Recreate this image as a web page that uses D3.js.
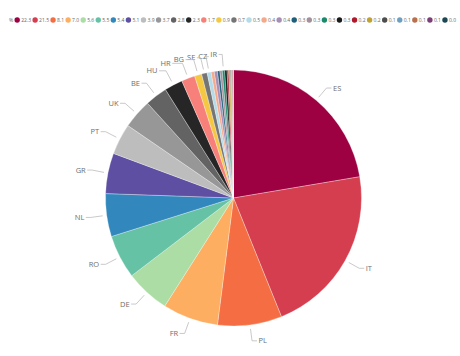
<!DOCTYPE html>
<html><head><meta charset="utf-8">
<script src="https://cdn.jsdelivr.net/npm/d3@7/dist/d3.min.js"></script>
<style>body{margin:0;background:#fff}svg{display:block}</style>
</head><body><svg id="c" width="460" height="356"></svg>
<script>
const countries = ["ES","IT","PL","FR","DE","RO","NL","GR","PT","UK","BE","HU","HR","BG","SE","CZ","AT","DK","FI","SK","IR","LT","SI","LV","EE","CY","LU","MT","NO"];
const values = [22.3,21.5,8.1,7.0,5.6,5.5,5.4,5.1,3.9,3.7,2.8,2.3,1.7,0.9,0.7,0.5,0.4,0.4,0.3,0.3,0.3,0.3,0.2,0.2,0.1,0.1,0.1,0.1,0.0];
const colors = ["#9e0142","#d53e4f","#f46d43","#fdae61","#abdda4","#66c2a5","#3288bd","#5e4fa2","#bdbdbd","#979797","#636363","#262626","#f8807a","#f5c843","#757575","#b3dbe8","#f4a98a","#a88db5","#1f5f7a","#a48f9c","#1b8a6b","#1a1a1a","#b2182b","#bfa233","#4d4d4d","#6f9fc0","#b8704d","#7b3f78","#1c4752"];
const shownLabels = ["ES","IT","PL","FR","DE","RO","NL","GR","PT","UK","BE","HU","HR","BG","SE","CZ","IR"];
const legendTitle = "%";

const data = countries.map((c,i)=>({name:c,value:values[i],color:colors[i]}));
const svg = d3.select("#c");
const cx = 233.5, cy = 198, R = 128;

// Legend (flow layout fitted between x0 and x1)
const lg = svg.append("g").attr("font-family","Open Sans, sans-serif").attr("font-size",5).attr("fill","#666");
const x0 = 9, x1 = 456, ly = 20, cr = 2.7, cg = 1.3;
const t0 = lg.append("text").attr("x",x0).attr("y",ly+1.8).text(legendTitle);
const items = data.map(d=>{
  const c = lg.append("circle").attr("cy",ly).attr("r",cr).attr("fill",d.color);
  const t = lg.append("text").attr("y",ly+1.8).text(d3.format(".1f")(d.value));
  return {c,t,w:t.node().getComputedTextLength()};
});
const titleW = t0.node().getComputedTextLength();
const natural = titleW + d3.sum(items,it=>2*cr+cg+it.w);
const gap = Math.max(0.5,(x1 - x0 - natural)/items.length);
let x = x0 + titleW + gap;
items.forEach(it=>{
  it.c.attr("cx",x+cr);
  it.t.attr("x",x+2*cr+cg);
  x += 2*cr + cg + it.w + gap;
});

// Pie
const pie = d3.pie().sort(null).value(d=>d.value);
const arcs = pie(data);
const arc = d3.arc().innerRadius(0).outerRadius(R);
const g = svg.append("g").attr("transform",`translate(${cx},${cy})`);
g.selectAll("path").data(arcs).join("path")
  .attr("d",arc).attr("fill",d=>d.data.color)
  .attr("stroke","#fff").attr("stroke-width",0.3);

// Labels
const lab = g.append("g").attr("font-family","Open Sans, sans-serif").attr("font-size",7.5).attr("fill","#6e6e6e");
const seg = 5, tg = 1.5;
const L = arcs.filter(d=>shownLabels.includes(d.data.name)).map(d=>{
  const a = (d.startAngle+d.endAngle)/2;
  const p1 = [Math.sin(a)*(R+4), -Math.cos(a)*(R+4)];
  const p2 = [Math.sin(a)*(R+16), -Math.cos(a)*(R+16)];
  const right = Math.sin(a) >= 0;
  const t = lab.append("text").attr("dy","0.35em").attr("y",p2[1])
    .attr("text-anchor","start").text(d.data.name);
  const w = t.node().getComputedTextLength();
  const start = right ? p2[0]+seg+tg : p2[0]-seg-tg-w;
  return {p1,p2,right,t,w,start,isTop:p2[1] < -R+5};
});
// de-overlap crowded labels near the top (horizontal relaxation)
const topLabels = L.filter(l=>l.isTop).sort((a,b)=>a.start-b.start);
for(let k=0;k<60;k++){
  for(let i=0;i<topLabels.length-1;i++){
    const a=topLabels[i], b=topLabels[i+1];
    const ov = a.start + a.w + 3 - b.start;
    if(ov>0){ a.start -= ov/2; b.start += ov/2; }
  }
}
L.forEach(l=>{
  l.t.attr("x",l.start);
  const endX = l.right ? l.start - tg : l.start + l.w + tg;
  lab.append("polyline").attr("points",[l.p1,l.p2,[endX,l.p2[1]]].map(p=>p.join(",")).join(" "))
    .attr("fill","none").attr("stroke","#bbb").attr("stroke-width",0.8);
});
</script></body></html>
